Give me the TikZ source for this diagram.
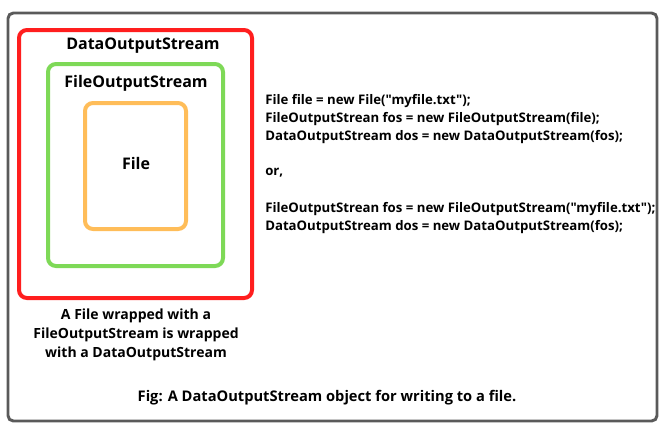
\documentclass[tikz,border=0pt]{standalone}
\usepackage{fontspec}
\setmainfont{Open Sans}
\newfontfamily\codefont{Open Sans}[Ligatures=ResetAll]
\definecolor{redbox}{HTML}{FF1E1E}
\definecolor{greenbox}{HTML}{7ED957}
\definecolor{orangebox}{HTML}{FFBD59}
\definecolor{framegray}{HTML}{5A5A5A}
\begin{document}
\begin{tikzpicture}[x=0.75pt,y=-0.75pt,
  box/.style={rounded corners=6pt},
  lbl/.style={font=\bfseries\fontsize{12}{14}\selectfont, inner sep=0pt},
  codeline/.style={font=\codefont\bfseries\fontsize{9.9}{13.5}\selectfont, inner sep=0pt, anchor=west},
  captxt/.style={font=\bfseries\fontsize{10.5}{14.2}\selectfont, inner sep=0pt, align=center}]
\useasboundingbox (0,0) rectangle (667,430);
\draw[framegray, line width=2.2pt, rounded corners=4pt] (8,13) rectangle (657,421);
\draw[redbox, line width=3pt, box] (19,30) rectangle (252,298);
\draw[greenbox, line width=3pt, box] (48,64) rectangle (223,266);
\draw[orangebox, line width=3pt, box] (85,103) rectangle (186,229);
\node[lbl] (dos) at (143,46) {DataOutputStream};
\node[lbl] (fos) at (136,83) {FileOutputStream};
\node[lbl] (file) at (136,163) {File};
\node[captxt] (wrap) at (136,335) {A File wrapped with a\\FileOutputStream is wrapped\\with a DataOutputStream};
\node[codeline] (c1) at (265,101) {File file = new File("myfile.txt");};
\node[codeline] (c2) at (265,119) {FileOutputStrean fos = new FileOutputStream(file);};
\node[codeline] (c3) at (265,137) {DataOutputStream dos = new DataOutputStream(fos);};
\node[codeline] (c4) at (265,173) {or,};
\node[codeline] (c5) at (265,209) {FileOutputStrean fos = new FileOutputStream("myfile.txt");};
\node[codeline] (c6) at (265,227) {DataOutputStream dos = new DataOutputStream(fos);};
\node[captxt, font=\bfseries\fontsize{11}{14}\selectfont] (fig) at (327,398) {Fig: A DataOutputStream object for writing to a file.};
\end{tikzpicture}
\end{document}
